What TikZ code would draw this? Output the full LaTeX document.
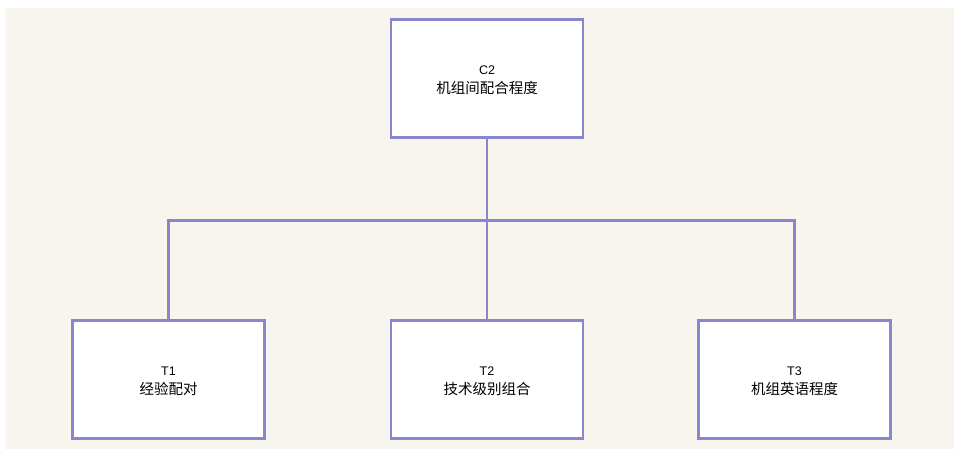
\documentclass[tikz,border=0pt]{standalone}
\usepackage{fontspec}
\newfontfamily\cjk{Noto Sans CJK SC}
\setsansfont{Liberation Sans}
\definecolor{bgc}{RGB}{248,245,238}
\definecolor{edge}{RGB}{136,134,204}
\tikzset{
  unitbox/.style={draw=edge, line width=2.5pt, fill=white, minimum width=192pt, minimum height=118pt, inner sep=0pt, align=center, font=\fontsize{14.5}{19}\selectfont},
  link/.style={draw=edge, line width=2.5pt}
}
\newcommand{\boxtext}[2]{\raisebox{0pt}[\dimexpr\height+4pt\relax]{\sffamily\fontsize{12.5}{14}\selectfont #1}\\{\cjk #2}}
\begin{document}
\begin{tikzpicture}[x=1pt,y=-1pt]
\useasboundingbox (0,0) rectangle (954,449);
\fill[bgc] (5,8) rectangle (954,449);
\node[unitbox] (c2) at (487,78.5) {\boxtext{C2}{机组间配合程度}};
\node[unitbox] (t1) at (168.5,379.5) {\boxtext{T1}{经验配对}};
\node[unitbox] (t2) at (487,379.5) {\boxtext{T2}{技术级别组合}};
\node[unitbox] (t3) at (794.5,379.5) {\boxtext{T3}{机组英语程度}};
\coordinate (j) at (487,220.5);
\draw[link] (c2.south) -- (j);
\draw[link] (t1.north) |- (j);
\draw[link] (t3.north) |- (j);
\draw[link] (j) -- (t2.north);
\end{tikzpicture}
\end{document}
